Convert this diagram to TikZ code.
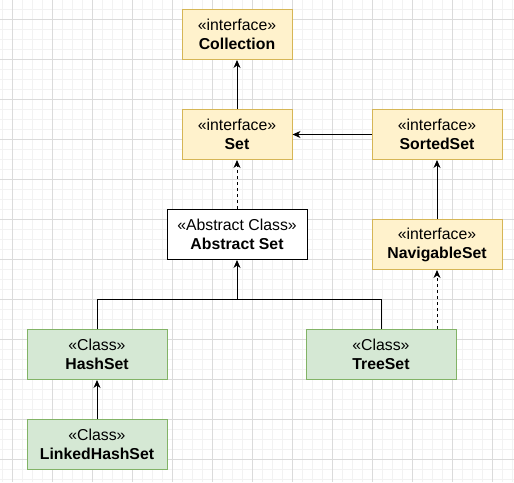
\documentclass[tikz,border=0pt]{standalone}
\usepackage{fontspec}
\setmainfont{Liberation Sans}
\usepackage{tikz}
\usetikzlibrary{arrows.meta}
\definecolor{IfaceFill}{HTML}{FFF2CC}
\definecolor{IfaceBorder}{HTML}{D6B656}
\definecolor{ClassGreen}{HTML}{D5E8D4}
\definecolor{ClassBorder}{HTML}{82B366}

\begin{document}
\begin{tikzpicture}[x=1pt, y=-1pt,
  box/.style={draw, line width=1pt, minimum height=50pt, align=center,
    font=\fontsize{15.8}{19}\selectfont, inner sep=0pt},
  iface/.style={box, fill=IfaceFill, draw=IfaceBorder, minimum width=110pt},
  cls/.style={box, fill=ClassGreen, draw=ClassBorder, minimum width=140pt},
  abs/.style={box, fill=white, draw=black, minimum width=140pt},
  link/.style={line width=1pt, -{Stealth[length=8pt,width=7pt,inset=2.5pt]}},
  impl/.style={link, dash pattern=on 3pt off 3pt}]
\useasboundingbox (0,0) rectangle (514,482);

% Background grid
\foreach \x in {2,12,...,512} \draw[black!5, line width=1pt] (\x,0) -- (\x,482);
\foreach \y in {9,19,...,479} \draw[black!5, line width=1pt] (0,\y) -- (514,\y);
\foreach \x in {12,52,...,492} \draw[black!14, line width=1pt] (\x,0) -- (\x,482);
\foreach \y in {19,59,...,459} \draw[black!14, line width=1pt] (0,\y) -- (514,\y);

% Interfaces
\node[iface] (coll) at (237,34.5) {«interface»\\\textbf{Collection}};
\node[iface] (set) at (237,134.5) {«interface»\\\textbf{Set}};
\node[iface, minimum width=130pt] (sorted) at (437,134.5) {«interface»\\\textbf{SortedSet}};
\node[iface, minimum width=130pt] (navig) at (437,244.5) {«interface»\\\textbf{NavigableSet}};

% Classes
\node[abs] (abst) at (237,234.5) {«Abstract Class»\\\textbf{Abstract Set}};
\node[cls] (hash) at (97,354.5) {«Class»\\\textbf{HashSet}};
\node[cls] (linked) at (97,444.5) {«Class»\\\textbf{LinkedHashSet}};
\node[cls, minimum width=150pt] (tree) at (381,354.5) {«Class»\\\textbf{TreeSet}};

% Inheritance
\draw[link] (set) -- (coll);
\draw[link] (sorted.west) -- (set.east);
\draw[link] (navig) -- (sorted);
\draw[link] (linked) -- (hash);

\coordinate (join) at (237,299);
\draw[line width=1pt] (tree.north) |- (join);
\draw[link] (hash.north) |- (join) -- (abst.south);

% Implementation
\draw[impl] (abst) -- (set);
\draw[impl] (tree.north -| navig.south) -- (navig.south);
\end{tikzpicture}
\end{document}
